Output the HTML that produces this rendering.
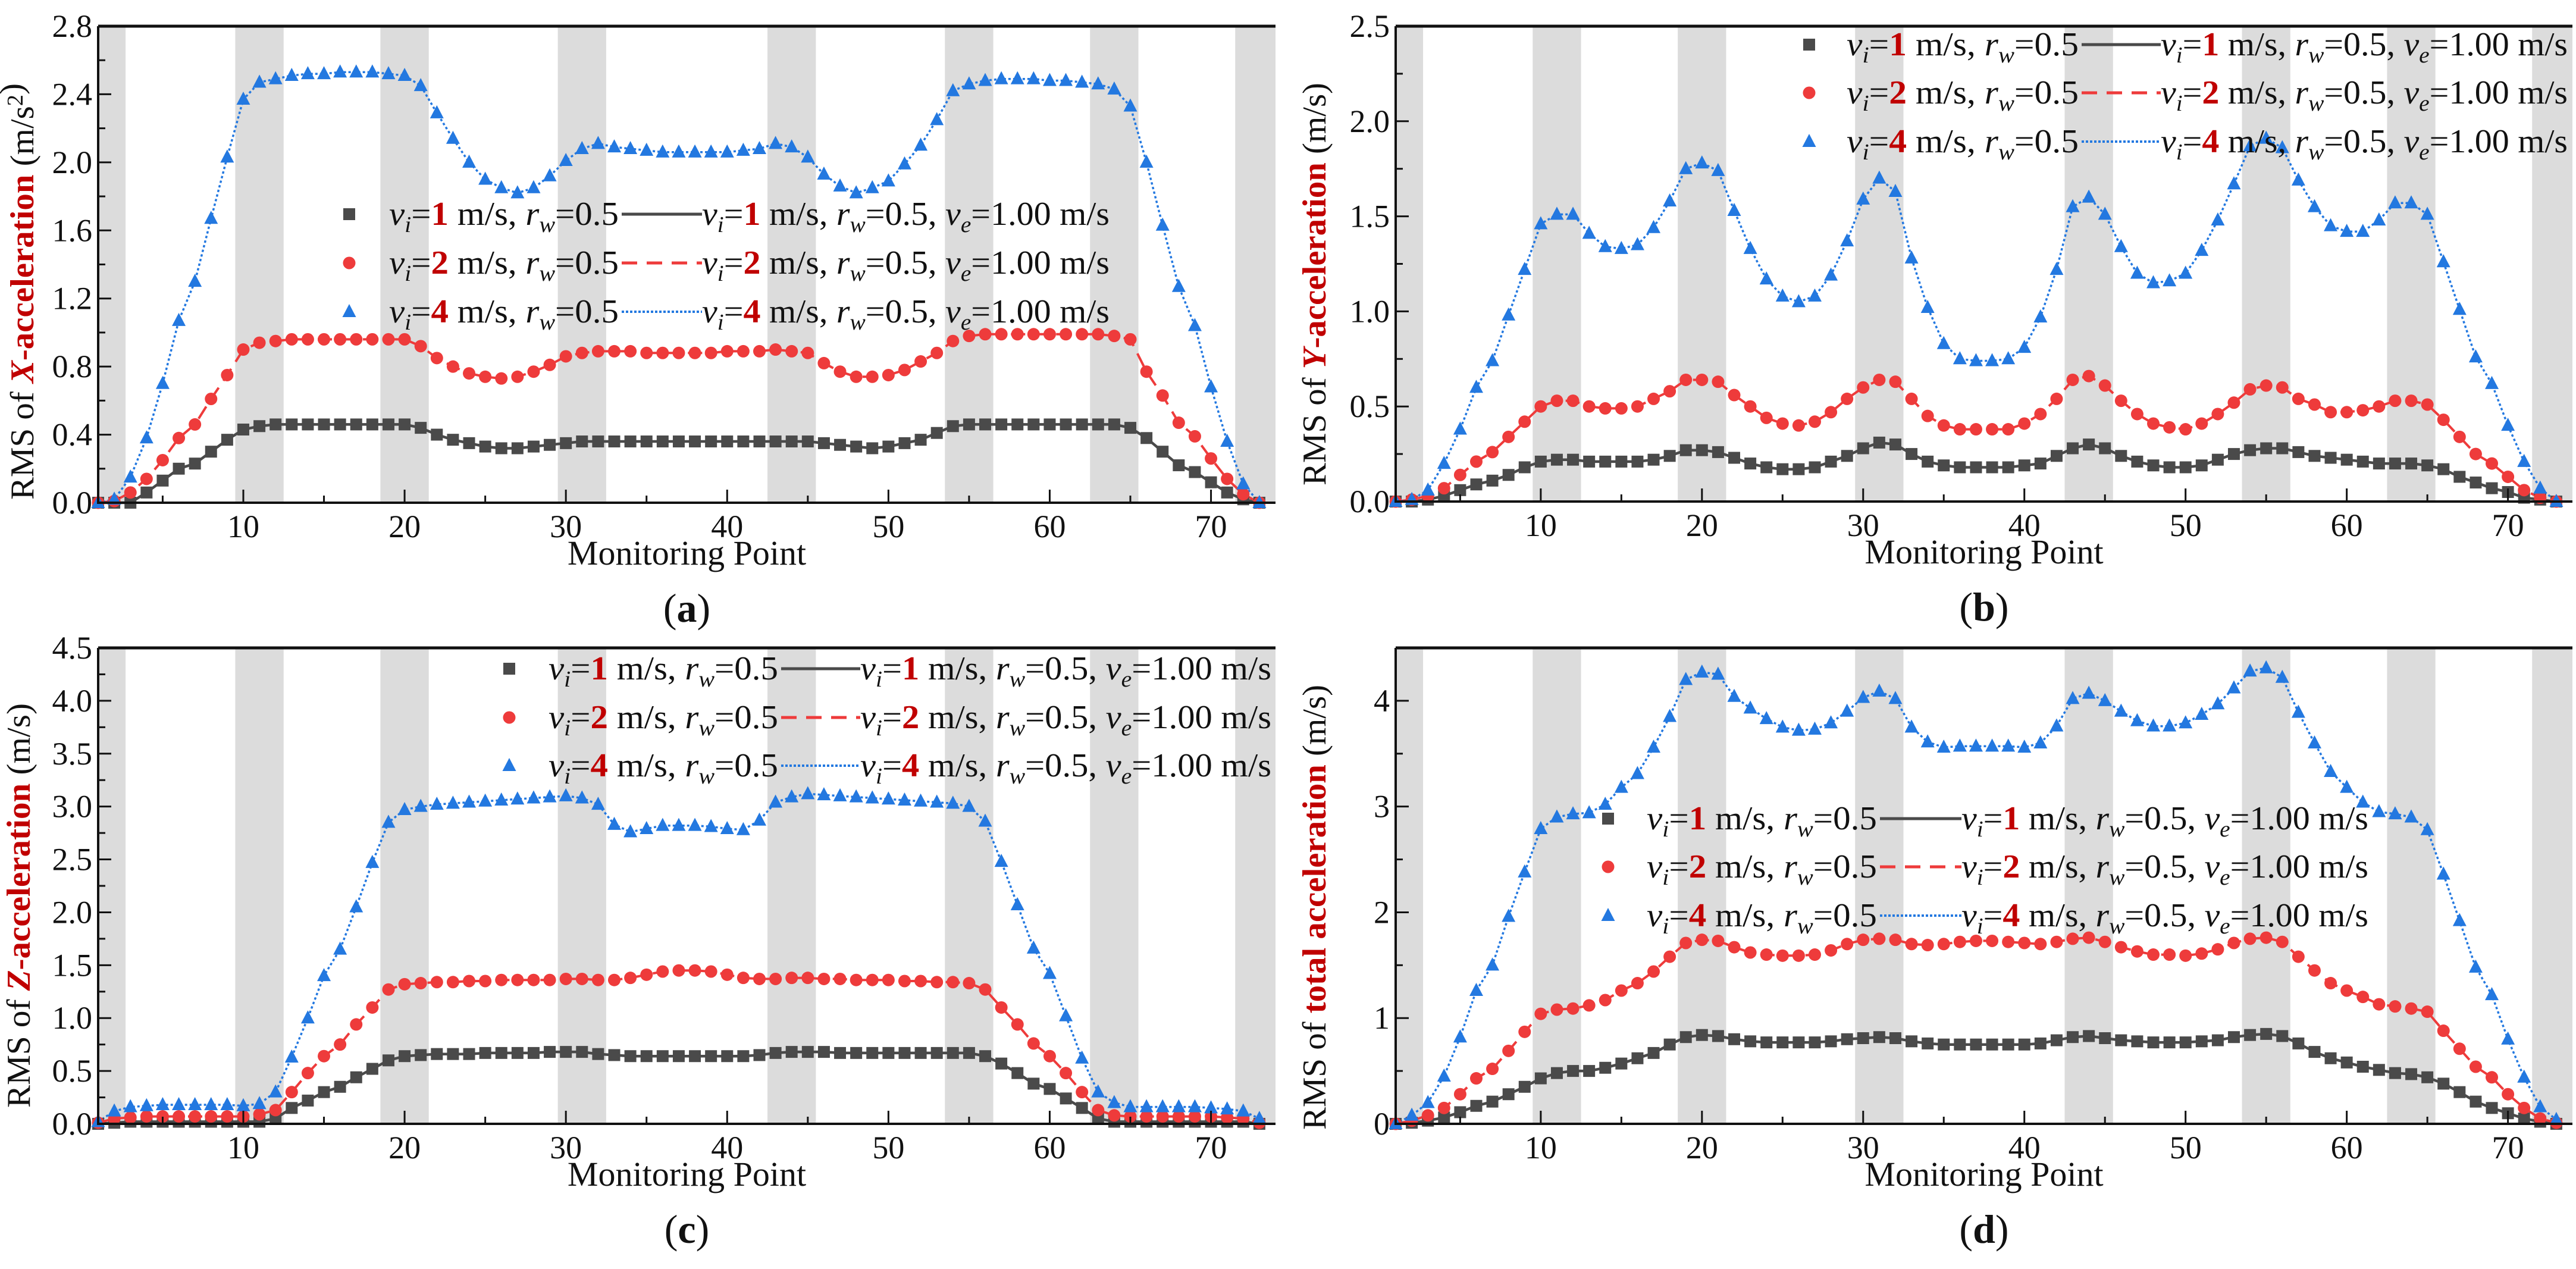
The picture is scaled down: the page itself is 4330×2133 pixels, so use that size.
<!DOCTYPE html>
<html><head><meta charset="utf-8"><style>
html,body{margin:0;padding:0;background:#fff;}
svg, svg text{font-family:"Liberation Serif","Times New Roman",serif;}
svg{display:block;}
</style></head><body>
<svg id="fig" width="4330" height="2133" viewBox="0 0 4330 2133" xmlns="http://www.w3.org/2000/svg" font-family="Liberation Serif, serif"></svg>
<script>
// ---- data ----
const bands = [[1,2.7],[9.5,12.5],[18.5,21.5],[29.5,32.5],[42.5,45.5],[53.5,56.5],[62.5,65.5],[71.5,74]];
const seriesNames = ["vi=1","vi=2","vi=4"];
const xTicks = [10,20,30,40,50,60,70];

const aGray = [0,0,0,0.06,0.13,0.2,0.23,0.3,0.37,0.43,0.45,0.46,0.46,0.46,0.46,0.46,0.46,0.46,0.46,0.46,0.44,0.4,0.37,0.35,0.33,0.32,0.32,0.33,0.34,0.35,0.36,0.36,0.36,0.36,0.36,0.36,0.36,0.36,0.36,0.36,0.36,0.36,0.36,0.36,0.36,0.35,0.34,0.33,0.32,0.33,0.35,0.37,0.41,0.45,0.46,0.46,0.46,0.46,0.46,0.46,0.46,0.46,0.46,0.46,0.44,0.38,0.3,0.22,0.18,0.12,0.06,0.02,0];
const aRed = [0,0.01,0.06,0.14,0.25,0.38,0.46,0.61,0.75,0.9,0.94,0.95,0.96,0.96,0.96,0.96,0.96,0.96,0.96,0.96,0.92,0.85,0.8,0.76,0.74,0.73,0.74,0.77,0.81,0.86,0.88,0.89,0.89,0.89,0.88,0.88,0.88,0.88,0.88,0.89,0.89,0.89,0.9,0.89,0.88,0.82,0.77,0.74,0.74,0.75,0.78,0.83,0.88,0.95,0.98,0.99,0.99,0.99,0.99,0.99,0.99,0.99,0.99,0.98,0.96,0.77,0.63,0.47,0.39,0.26,0.14,0.05,0];
const aBlue = [0,0.02,0.15,0.38,0.7,1.07,1.3,1.67,2.03,2.37,2.47,2.49,2.51,2.52,2.52,2.53,2.53,2.53,2.52,2.51,2.45,2.29,2.14,2.0,1.9,1.85,1.82,1.85,1.92,2.01,2.08,2.11,2.09,2.08,2.07,2.06,2.06,2.06,2.06,2.06,2.07,2.08,2.11,2.09,2.03,1.93,1.86,1.82,1.85,1.89,1.99,2.1,2.25,2.42,2.46,2.48,2.49,2.49,2.49,2.48,2.48,2.47,2.46,2.43,2.33,2.0,1.63,1.27,1.04,0.68,0.36,0.11,0];

const bGray = [0,0,0.01,0.03,0.06,0.09,0.11,0.14,0.18,0.21,0.22,0.22,0.21,0.21,0.21,0.21,0.22,0.24,0.27,0.27,0.26,0.23,0.2,0.18,0.17,0.17,0.18,0.21,0.24,0.28,0.31,0.3,0.25,0.21,0.19,0.18,0.18,0.18,0.18,0.19,0.2,0.24,0.28,0.3,0.28,0.24,0.21,0.19,0.18,0.18,0.19,0.22,0.25,0.27,0.28,0.28,0.26,0.24,0.23,0.22,0.21,0.2,0.2,0.2,0.19,0.17,0.13,0.1,0.07,0.05,0.02,0.01,0];
const bRed = [0,0.01,0.03,0.07,0.14,0.21,0.26,0.34,0.42,0.5,0.53,0.53,0.5,0.49,0.49,0.5,0.54,0.58,0.64,0.64,0.63,0.56,0.5,0.44,0.41,0.4,0.42,0.47,0.54,0.6,0.64,0.63,0.54,0.45,0.4,0.38,0.38,0.38,0.38,0.41,0.46,0.54,0.64,0.66,0.61,0.53,0.46,0.41,0.39,0.38,0.41,0.46,0.52,0.59,0.61,0.6,0.54,0.51,0.47,0.47,0.48,0.5,0.53,0.53,0.51,0.43,0.34,0.25,0.2,0.13,0.06,0.02,0];
const bBlue = [0,0.01,0.06,0.2,0.38,0.6,0.74,0.98,1.22,1.46,1.51,1.51,1.41,1.34,1.33,1.35,1.44,1.58,1.75,1.78,1.74,1.53,1.33,1.17,1.08,1.05,1.08,1.19,1.37,1.59,1.7,1.63,1.28,1.02,0.83,0.75,0.74,0.74,0.75,0.81,0.97,1.22,1.55,1.6,1.51,1.34,1.2,1.15,1.16,1.2,1.32,1.48,1.67,1.87,1.91,1.86,1.69,1.55,1.45,1.42,1.42,1.48,1.57,1.57,1.51,1.26,1.01,0.76,0.62,0.4,0.21,0.07,0];

const cGray = [0,0.01,0.02,0.02,0.02,0.02,0.02,0.02,0.02,0.02,0.02,0.05,0.15,0.22,0.3,0.35,0.44,0.52,0.6,0.64,0.65,0.66,0.66,0.66,0.67,0.67,0.67,0.67,0.68,0.68,0.68,0.66,0.65,0.64,0.64,0.64,0.64,0.64,0.64,0.64,0.64,0.65,0.67,0.68,0.68,0.68,0.67,0.67,0.67,0.67,0.67,0.67,0.67,0.67,0.67,0.64,0.57,0.48,0.38,0.33,0.24,0.15,0.05,0.02,0.02,0.02,0.02,0.02,0.02,0.02,0.02,0.02,0];
const cRed = [0.01,0.05,0.06,0.07,0.07,0.07,0.07,0.07,0.07,0.07,0.09,0.13,0.3,0.48,0.64,0.75,0.94,1.1,1.27,1.32,1.33,1.34,1.34,1.35,1.35,1.36,1.36,1.36,1.36,1.37,1.37,1.36,1.36,1.38,1.41,1.44,1.45,1.45,1.44,1.41,1.38,1.37,1.37,1.38,1.38,1.37,1.37,1.36,1.36,1.36,1.35,1.35,1.34,1.34,1.33,1.27,1.1,0.94,0.76,0.64,0.48,0.3,0.13,0.08,0.07,0.07,0.07,0.07,0.07,0.07,0.06,0.05,0.01];
const cBlue = [0.02,0.12,0.16,0.17,0.18,0.18,0.18,0.18,0.18,0.17,0.19,0.3,0.63,1.0,1.4,1.65,2.05,2.47,2.85,2.97,3.0,3.02,3.03,3.04,3.05,3.06,3.07,3.08,3.09,3.1,3.08,3.02,2.83,2.76,2.79,2.82,2.82,2.82,2.81,2.79,2.78,2.87,3.04,3.09,3.12,3.11,3.1,3.09,3.08,3.07,3.06,3.05,3.04,3.03,3.0,2.86,2.48,2.07,1.66,1.42,1.02,0.62,0.3,0.2,0.16,0.16,0.16,0.16,0.16,0.15,0.14,0.12,0.05];

const dGray = [0,0.01,0.03,0.06,0.11,0.17,0.21,0.28,0.35,0.43,0.48,0.5,0.5,0.53,0.57,0.62,0.67,0.75,0.82,0.84,0.83,0.8,0.78,0.77,0.77,0.77,0.77,0.78,0.8,0.81,0.82,0.81,0.78,0.76,0.75,0.75,0.75,0.75,0.75,0.75,0.76,0.79,0.82,0.83,0.81,0.79,0.78,0.77,0.77,0.77,0.78,0.79,0.82,0.84,0.85,0.83,0.76,0.68,0.62,0.58,0.54,0.51,0.48,0.47,0.44,0.38,0.3,0.21,0.15,0.1,0.05,0.02,0];
const dRed = [0,0.03,0.08,0.15,0.28,0.43,0.52,0.69,0.87,1.04,1.08,1.09,1.12,1.17,1.26,1.33,1.44,1.58,1.71,1.74,1.73,1.67,1.62,1.6,1.59,1.59,1.6,1.64,1.7,1.74,1.75,1.74,1.7,1.69,1.7,1.72,1.73,1.73,1.72,1.71,1.7,1.72,1.75,1.76,1.72,1.67,1.63,1.6,1.6,1.59,1.61,1.65,1.71,1.75,1.76,1.72,1.58,1.45,1.33,1.26,1.2,1.13,1.11,1.09,1.06,0.88,0.71,0.54,0.44,0.28,0.15,0.05,0.01];
const dBlue = [0,0.08,0.2,0.45,0.82,1.26,1.5,1.96,2.38,2.79,2.9,2.93,2.94,3.02,3.18,3.31,3.56,3.85,4.2,4.27,4.25,4.04,3.93,3.83,3.75,3.72,3.73,3.79,3.9,4.03,4.09,4.02,3.75,3.61,3.56,3.57,3.57,3.57,3.57,3.56,3.6,3.76,4.02,4.07,4.0,3.9,3.81,3.76,3.76,3.79,3.87,3.97,4.12,4.28,4.31,4.22,3.89,3.6,3.33,3.18,3.04,2.95,2.93,2.9,2.78,2.36,1.92,1.48,1.22,0.8,0.44,0.16,0.04];

const aYTicks = [0,0.4,0.8,1.2,1.6,2.0,2.4,2.8];
const bYTicks = [0,0.5,1.0,1.5,2.0,2.5];
const cYTicks = [0,0.5,1.0,1.5,2.0,2.5,3.0,3.5,4.0,4.5];
const dYTicks = [0,1,2,3,4];

// ---- drawing ----
const NS = "http://www.w3.org/2000/svg";
const svg = document.getElementById("fig");
const FONT = "'Liberation Serif', 'Times New Roman', serif";
function mk(tag, attrs, parent){
  const e = document.createElementNS(NS, tag);
  for (const k in attrs) e.setAttribute(k, attrs[k]);
  if (tag === "text") e.setAttribute("font-family", FONT);
  (parent||svg).appendChild(e);
  return e;
}
const COL = ["#4a4a4a","#ee3b3b","#2378e0"];
const RED = "#c00000";

function legendText(parent, x, y, len, num, full){
  const t = mk("text",{x:x,y:y,"font-size":56,fill:"#111",textLength:len,lengthAdjust:"spacingAndGlyphs"},parent);
  
  
  let h = '<tspan font-style="italic">v</tspan><tspan font-style="italic" font-size="38" dy="12">i</tspan><tspan dy="-12">=</tspan><tspan fill="'+RED+'" font-weight="bold">'+num+'</tspan> m/s, <tspan font-style="italic">r</tspan><tspan font-style="italic" font-size="38" dy="12">w</tspan><tspan dy="-12">=0.5</tspan>';
  if (full) h += ', <tspan font-style="italic">v</tspan><tspan font-style="italic" font-size="38" dy="12">e</tspan><tspan dy="-12">=1.00 m/s</tspan>';
  t.innerHTML = h;
}

function marker(g, k, x, y){
  let m;
  if (k===0) m = mk("rect",{x:x-10,y:y-10,width:20,height:20,fill:COL[0]},g);
  else if (k===1) m = mk("circle",{cx:x,cy:y,r:10.5,fill:COL[1]},g);
  else m = mk("polygon",{points:(x)+","+(y-13)+" "+(x-11.5)+","+(y+9)+" "+(x+11.5)+","+(y+9),fill:COL[2]},g);
  
  
  return m;
}

function drawPanel(cfg){
  const g = mk("g",{});
  
  
  const {L,R,T,B,ymax} = cfg;
  const xs = v => L + (v-1)/(74-1)*(R-L);
  const ys = v => B - v/ymax*(B-T);
  bands.forEach(b=>{
    const r = mk("rect",{x:xs(b[0]),y:T,width:xs(b[1])-xs(b[0]),height:B-T,fill:"#dcdcdc"},g);
    
    
  });
  const styles = [{w:4.5,d:""},{w:4,d:"24 14"},{w:3.5,d:"4 4"}];
  cfg.series.forEach((arr,k)=>{
    const pts = arr.map((v,i)=>xs(i+1).toFixed(1)+","+ys(v).toFixed(1)).join(" ");
    const pl = mk("polyline",{points:pts,fill:"none",stroke:COL[k],"stroke-width":styles[k].w,"stroke-dasharray":styles[k].d},g);
    
    
  });
  cfg.series.forEach((arr,k)=>{
    arr.forEach((v,i)=>marker(g,k,xs(i+1),ys(v)));
  });
  const ax = mk("path",{d:"M"+L+","+T+" L"+L+","+B+" L"+R+","+B,fill:"none",stroke:"#111","stroke-width":4},g);
  
  
  const tp = mk("line",{x1:L,y1:T,x2:R,y2:T,stroke:"#111","stroke-width":5},g);
  
  
  for (let v=5; v<=70; v+=5){
    const major = v%10===0;
    const tk = mk("line",{x1:xs(v),y1:B,x2:xs(v),y2:B-(major?22:12),stroke:"#111","stroke-width":3},g);
    
    
  }
  xTicks.forEach(v=>{
    const t = mk("text",{x:xs(v),y:B+58,"font-size":54,"text-anchor":"middle",fill:"#111"},g);
    t.textContent = v;
    
    
  });
  const step = cfg.yTicks[1]-cfg.yTicks[0];
  cfg.yTicks.forEach(v=>{
    const tk = mk("line",{x1:L,y1:ys(v),x2:L+22,y2:ys(v),stroke:"#111","stroke-width":3},g);
    
    
    const mv = v+step/2;
    if (mv < ymax+1e-9){
      const mt = mk("line",{x1:L,y1:ys(mv),x2:L+12,y2:ys(mv),stroke:"#111","stroke-width":3},g);
      
      
    }
    const t = mk("text",{x:L-10,y:ys(v)+18,"font-size":54,"text-anchor":"end",fill:"#111"},g);
    t.textContent = cfg.dec ? v.toFixed(cfg.dec) : String(v);
    
    
  });
  const xt = mk("text",{x:(L+R)/2,y:B+104,"font-size":58,"text-anchor":"middle",fill:"#111"},g);
  xt.textContent = "Monitoring Point";
  
  
  const pl = mk("text",{x:(L+R)/2,y:B+200,"font-size":68,"text-anchor":"middle",fill:"#111"},g);
  pl.innerHTML = '(<tspan font-weight="bold">'+cfg.letter+'</tspan>)';
  
  
  const cy = (cfg.ty1+cfg.ty2)/2;
  const yt = mk("text",{x:0,y:0,"font-size":56,"text-anchor":"middle",fill:"#111",transform:"translate("+(cfg.tx+18)+","+cy+") rotate(-90)",textLength:cfg.ty2-cfg.ty1,lengthAdjust:"spacingAndGlyphs"},g);
  yt.innerHTML = 'RMS of <tspan fill="'+RED+'" font-weight="bold">'+cfg.ylab+'</tspan> ('+cfg.unit+')';
  
  
  const lg = mk("g",{},g);
  
  
  const nums = ["1","2","4"];
  const lstyles = [{w:5,d:""},{w:5,d:"26 16"},{w:4,d:"4 3"}];
  cfg.lgRows.forEach((ry,k)=>{
    const e = mk("g",{},lg);
    
    
    marker(e,k,cfg.lg.mx,ry);
    legendText(e,cfg.lg.t1,ry+18,cfg.lg.l1-cfg.lg.t1-5,nums[k],false);
    const ln = mk("line",{x1:cfg.lg.l1,y1:ry,x2:cfg.lg.l2,y2:ry,stroke:COL[k],"stroke-width":lstyles[k].w,"stroke-dasharray":lstyles[k].d},e);
    
    
    legendText(e,cfg.lg.l2,ry+18,cfg.lg.t2-cfg.lg.l2,nums[k],true);
  });
}

drawPanel({name:"panel-a-x-acceleration",letter:"a",L:165,R:2144,T:44,B:845,ymax:2.8,yTicks:aYTicks,dec:1,
  series:[aGray,aRed,aBlue],tx:38,ty1:140,ty2:840,ylab:'<tspan font-style="italic">X</tspan>-acceleration',unit:'m/s<tspan font-size="38" dy="-18">2</tspan><tspan dy="18"></tspan>',
  lgRows:[360,442,524],lg:{mx:587,t1:654,l1:1045,l2:1180,t2:1865}});
drawPanel({name:"panel-b-y-acceleration",letter:"b",L:2346,R:4324,T:44,B:843,ymax:2.5,yTicks:bYTicks,dec:1,
  series:[bGray,bRed,bBlue],tx:2210,ty1:139,ty2:816,ylab:'<tspan font-style="italic">Y</tspan>-acceleration',unit:'m/s',
  lgRows:[75,156,238],lg:{mx:3041,t1:3104,l1:3499,l2:3632,t2:4316}});
drawPanel({name:"panel-c-z-acceleration",letter:"c",L:165,R:2144,T:1089,B:1889,ymax:4.5,yTicks:cYTicks,dec:1,
  series:[cGray,cRed,cBlue],tx:32,ty1:1182,ty2:1862,ylab:'<tspan font-style="italic">Z</tspan>-acceleration',unit:'m/s',
  lgRows:[1124,1206,1287],lg:{mx:856,t1:922,l1:1313,l2:1446,t2:2137}});
drawPanel({name:"panel-d-total-acceleration",letter:"d",L:2346,R:4324,T:1089,B:1889,ymax:4.5,yTicks:dYTicks,dec:0,
  series:[dGray,dRed,dBlue],tx:2210,ty1:1151,ty2:1899,ylab:'total acceleration',unit:'m/s',
  lgRows:[1376,1457,1539],lg:{mx:2703,t1:2768,l1:3160,l2:3297,t2:3981}});
</script>
</body></html>
